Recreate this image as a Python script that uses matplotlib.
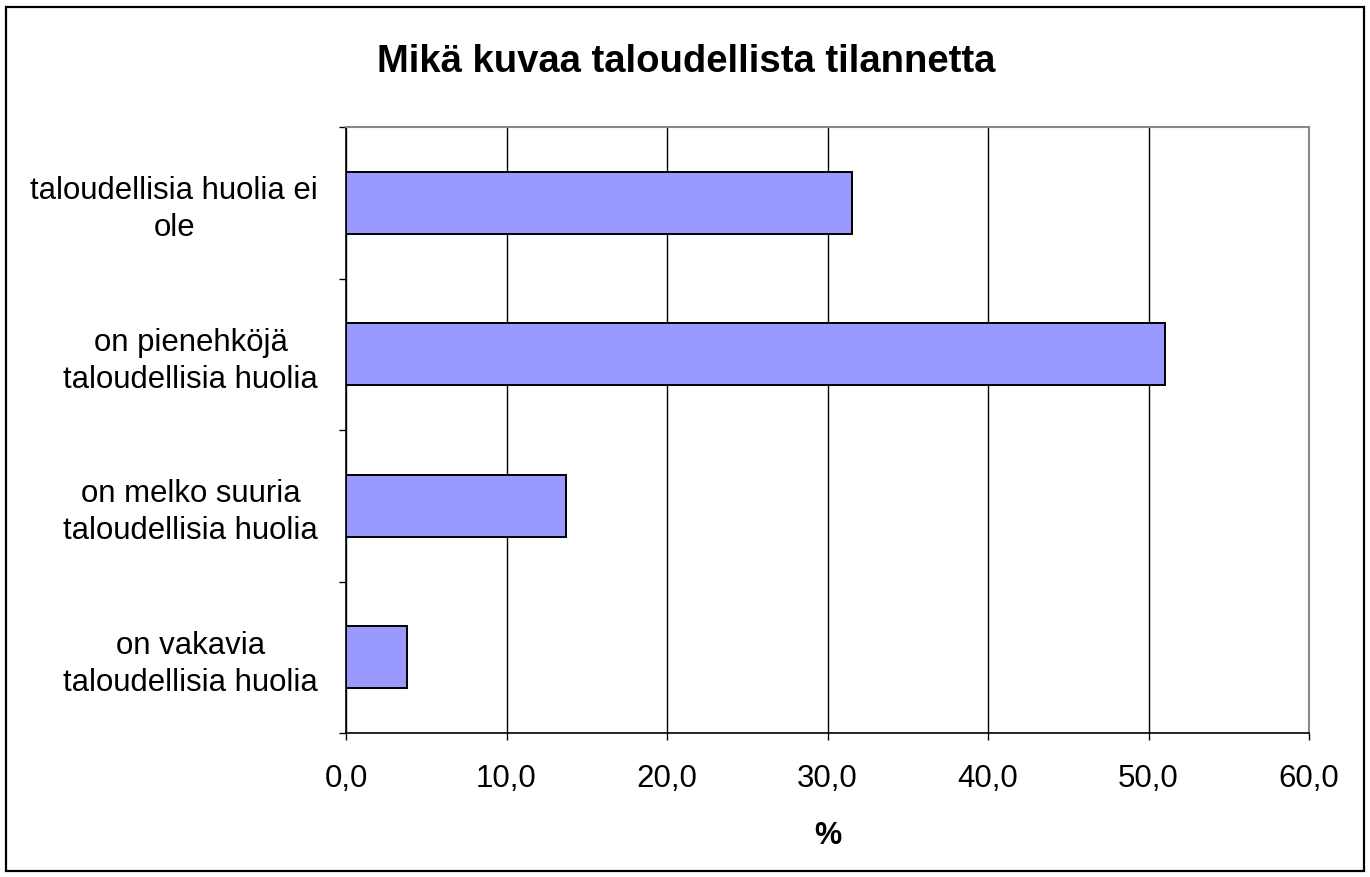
import matplotlib
matplotlib.use("Agg")
import matplotlib.pyplot as plt
from matplotlib.patches import Rectangle
from matplotlib.ticker import FuncFormatter, MultipleLocator

plt.rcParams['font.family'] = ['Liberation Sans', 'DejaVu Sans']

# Datos
categorias = [
    "taloudellisia huolia ei\nole",
    "on pienehköjä\ntaloudellisia huolia",
    "on melko suuria\ntaloudellisia huolia",
    "on vakavia\ntaloudellisia huolia",
]
valores = [31.5, 51.0, 13.7, 3.8]
titulo = "Mikä kuvaa taloudellista tilannetta"
eje_x = "%"

fig = plt.figure(figsize=(13.7, 8.77), dpi=100)
fig.patch.set_facecolor('white')
ax = fig.add_axes([346 / 1370, 1 - 733 / 877, (1309 - 346) / 1370, (733 - 127) / 877])

pos = list(range(len(categorias)))
ax.barh(pos, valores, height=0.41, color='#9999FF', edgecolor='black', linewidth=1.4, zorder=3)

# Ejes
ax.set_xlim(0, 60)
ax.set_ylim(len(categorias) - 0.5, -0.5)
ax.xaxis.set_major_locator(MultipleLocator(10))
ax.xaxis.set_major_formatter(FuncFormatter(lambda x, _: f"{x:.1f}".replace(".", ",")))
ax.grid(axis='x', color='black', linewidth=1.0, zorder=1)
ax.set_axisbelow(True)

ax.set_yticks(pos)
ax.set_yticklabels(categorias)
for t in ax.get_yticklabels():
    t.set_multialignment('center')
    t.set_linespacing(1.3)
    t.set_va('center_baseline')
ax.set_yticks([p - 0.5 for p in pos] + [len(categorias) - 0.5], minor=True)
ax.tick_params(axis='y', which='major', length=0, pad=20, labelsize=22.4)
ax.tick_params(axis='y', which='minor', length=5, width=1, direction='out')
ax.tick_params(axis='x', length=5, width=1, direction='out', pad=17, labelsize=22.5)

for lado in ['top', 'right']:
    ax.spines[lado].set_color('#888888')
    ax.spines[lado].set_linewidth(1.5)
for lado in ['left', 'bottom']:
    ax.spines[lado].set_color('black')
    ax.spines[lado].set_linewidth(1.2)

ax.set_xlabel(eje_x, fontsize=22, fontweight='bold', labelpad=20)
fig.text(686 / 1370, 1 - 62 / 877, titulo, fontsize=27.5, fontweight='bold',
         ha='center', va='center')

# Marco exterior
fig.patches.append(Rectangle((6 / 1370, 1 - 871 / 877), 1358 / 1370, 864 / 877,
                             transform=fig.transFigure, fill=False,
                             edgecolor='black', linewidth=1.6))

fig.savefig("out.png", dpi=100)
plt.close(fig)
